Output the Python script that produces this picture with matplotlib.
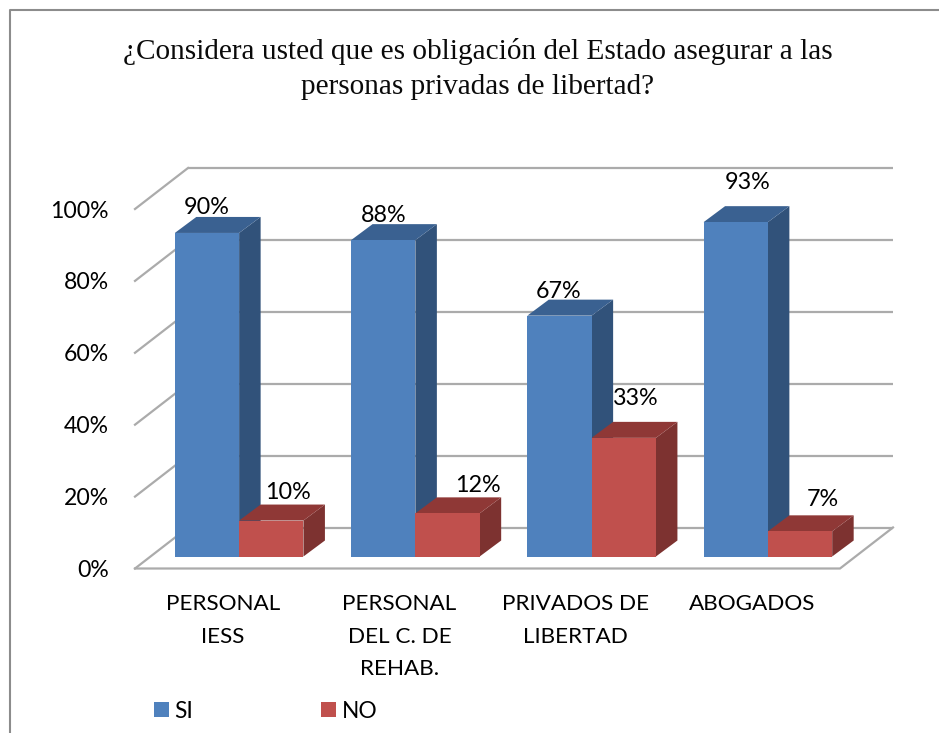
import matplotlib
matplotlib.use("Agg")
import matplotlib.pyplot as plt
from matplotlib.patches import Polygon, Rectangle
from matplotlib.lines import Line2D

categories = ["PERSONAL\nIESS", "PERSONAL\nDEL C. DE\nREHAB.", "PRIVADOS DE\nLIBERTAD", "ABOGADOS"]
si_values = [90, 88, 67, 93]
no_values = [10, 12, 33, 7]
y_ticks = [0, 20, 40, 60, 80, 100]
y_tick_labels = ["0%", "20%", "40%", "60%", "80%", "100%"]
title = "¿Considera usted que es obligación del Estado asegurar a las\npersonas privadas de libertad?"

W, H = 939, 733
fig = plt.figure(figsize=(W / 100, H / 100), dpi=100, facecolor="white")
L, R, B, T = 135, 840, 568.5, 209
ax = fig.add_axes([L / W, (H - B) / H, (R - L) / W, (B - T) / H])
ax.set_xlim(0, len(categories))
ax.set_ylim(0, 100)
ax.patch.set_visible(False)
for s in ax.spines.values():
    s.set_visible(False)

px_x = (R - L) / len(categories)
px_y = (B - T) / 100
def ddx(p): return p / px_x
def ddy(p): return p / px_y

SANS = "Lato"
GRID = "#ABABAB"
wall_dx, wall_dy = ddx(53), ddy(41)

# walls and floor
for v in y_ticks:
    ax.plot([wall_dx, len(categories) + wall_dx], [v + wall_dy] * 2, color=GRID, lw=1.6,
            clip_on=False, zorder=1, solid_capstyle="butt")
    ax.plot([0, wall_dx], [v, v + wall_dy], color=GRID, lw=1.6, clip_on=False, zorder=1)
ax.plot([0, len(categories), len(categories) + wall_dx], [0, 0, wall_dy], color=GRID, lw=1.6,
        clip_on=False, zorder=1, solid_joinstyle="miter")

bar_w = 64.3 / px_x
off_x, off_y = ddx(16), ddy(12)
dep_x, dep_y = ddx(21.5), ddy(16)

def bar3d(x0, v, front, side, top, z):
    b = off_y
    t = off_y + v
    x1 = x0 + bar_w
    ax.add_patch(Polygon([(x1, b), (x1 + dep_x, b + dep_y), (x1 + dep_x, t + dep_y), (x1, t)],
                         fc=side, ec="none", zorder=z, clip_on=False))
    ax.add_patch(Polygon([(x0, t), (x1, t), (x1 + dep_x, t + dep_y), (x0 + dep_x, t + dep_y)],
                         fc=top, ec="none", zorder=z, clip_on=False))
    ax.add_patch(Rectangle((x0, b), bar_w, v, fc=front, ec="none", zorder=z + 0.1, clip_on=False))

for i, (s, n) in enumerate(zip(si_values, no_values)):
    c = i + 0.5 + off_x
    bar3d(c - bar_w, s, "#4F81BD", "#31527A", "#3A6191", 3 + i)
    bar3d(c, n, "#C0504D", "#7D3230", "#8F3836", 3.5 + i)

# data labels (pixel offsets from the front-top centre of each bar)
si_off = [(0, 25), (0, 25), (-1, 24), (12, 40)]
no_off = [(17, 28), (30, 28), (12, 39), (23, 32)]
for i, (s, n) in enumerate(zip(si_values, no_values)):
    c = i + 0.5 + off_x
    for xc, v, o in ((c - bar_w / 2, s, si_off[i]), (c + bar_w / 2, n, no_off[i])):
        ax.annotate(f"{v}%", (xc, off_y + v), xytext=(o[0] * 0.72, o[1] * 0.72),
                    textcoords="offset points", ha="center", va="center",
                    fontsize=16.8, family=SANS, color="black", zorder=20, annotation_clip=False)

ax.set_yticks(y_ticks, y_tick_labels)
ax.set_xticks([i + 0.5 for i in range(len(categories))], categories)
ax.tick_params(axis="y", length=0, pad=19, labelsize=16.6)
ax.tick_params(axis="x", length=0, pad=18.5, labelsize=16.2)
for lab in ax.get_yticklabels() + ax.get_xticklabels():
    lab.set_family(SANS)
for lab in ax.get_xticklabels():
    lab.set_linespacing(1.78)
    lab.set_multialignment("center")

fig.text(478 / W, 1 - 69 / H, title, ha="center", va="center", fontsize=21.1,
         family="Liberation Serif", linespacing=1.42, color="#0A0A0A")

# chart frame: left and top edges only, running off the picture
fig.add_artist(Line2D([9.5 / W, 9.5 / W, 1],
                      [0, 1 - 10 / H, 1 - 10 / H], color="#8C8C8C", lw=1.5))

handles = [Rectangle((0, 0), 1, 1, fc="#4F81BD"), Rectangle((0, 0), 1, 1, fc="#C0504D")]
leg = fig.legend(handles, ["SI", "NO"], ncol=2, loc="center left",
                 bbox_to_anchor=(149 / W, 1 - 711 / H), frameon=False,
                 prop={"family": SANS, "size": 16.4}, handlelength=0.66, handleheight=0.66,
                 handletextpad=0.26, columnspacing=5.62, borderpad=0.2, borderaxespad=0)

fig.savefig("out.png", dpi=100, facecolor="white")
